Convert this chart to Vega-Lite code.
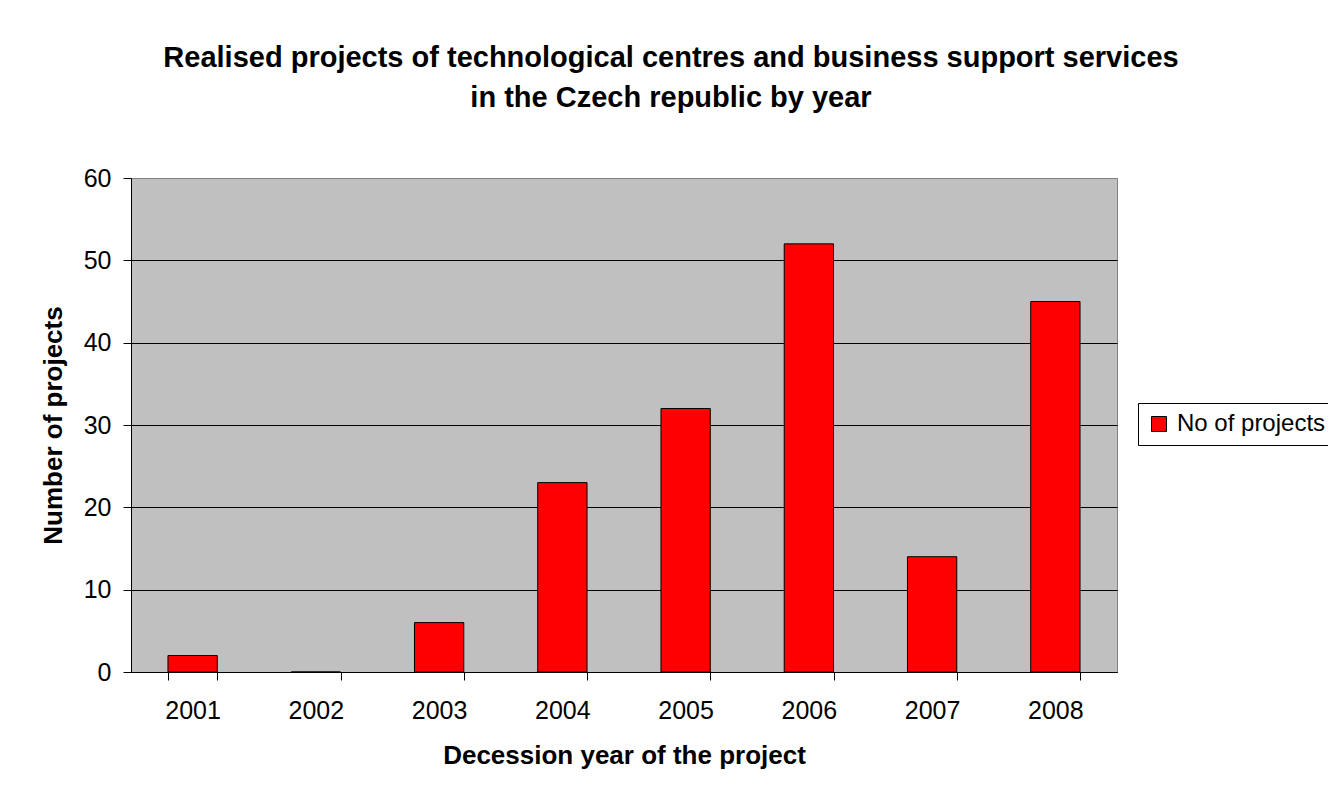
{
  "$schema": "https://vega.github.io/schema/vega-lite/v6.json",
  "width": 986,
  "height": 494,
  "autosize": {"type": "none"},
  "padding": {"left": 131, "top": 178, "right": 211, "bottom": 125},
  "background": "white",
  "title": {
    "text": ["Realised projects of technological centres and business support services", "in the Czech republic by year"],
    "font": "Liberation Sans",
    "fontSize": 29,
    "fontWeight": "bold",
    "color": "black",
    "anchor": "middle",
    "dx": 47,
    "offset": 53,
    "lineHeight": 40
  },
  "data": {
    "values": [
      {"year": "2001", "n": 2, "series": "No of projects"},
      {"year": "2002", "n": 0, "series": "No of projects"},
      {"year": "2003", "n": 6, "series": "No of projects"},
      {"year": "2004", "n": 23, "series": "No of projects"},
      {"year": "2005", "n": 32, "series": "No of projects"},
      {"year": "2006", "n": 52, "series": "No of projects"},
      {"year": "2007", "n": 14, "series": "No of projects"},
      {"year": "2008", "n": 45, "series": "No of projects"}
    ]
  },
  "mark": {"type": "bar", "stroke": "black", "strokeWidth": 1, "opacity": 1},
  "encoding": {
    "x": {
      "field": "year",
      "type": "ordinal",
      "scale": {"paddingInner": 0.6, "paddingOuter": 0.3},
      "axis": {
        "title": "Decession year of the project",
        "labelAngle": 0,
        "tickBand": "extent",
        "tickSize": 8,
        "tickColor": "black",
        "domainColor": "black",
        "labelPadding": 18,
        "labelFont": "Liberation Sans",
        "labelFontSize": 25,
        "labelColor": "black",
        "titleFont": "Liberation Sans",
        "titleFontSize": 26,
        "titleFontWeight": "bold",
        "titleColor": "black",
        "titlePadding": 19,
        "grid": false
      }
    },
    "y": {
      "field": "n",
      "type": "quantitative",
      "scale": {"domain": [0, 60], "nice": false},
      "axis": {
        "title": "Number of projects",
        "values": [0, 10, 20, 30, 40, 50, 60],
        "grid": true,
        "gridColor": {"condition": {"test": "datum.value == 60", "value": "#808080"}, "value": "black"},
        "gridOpacity": 1,
        "tickSize": 8,
        "tickColor": "black",
        "domainColor": "black",
        "labelPadding": 12,
        "labelFont": "Liberation Sans",
        "labelFontSize": 25,
        "labelColor": "black",
        "titleFont": "Liberation Sans",
        "titleFontSize": 26,
        "titleFontWeight": "bold",
        "titleColor": "black",
        "titlePadding": 17
      }
    },
    "color": {
      "field": "series",
      "type": "nominal",
      "scale": {"range": ["#FF0000"]},
      "legend": {
        "title": null,
        "orient": "none",
        "legendX": 1007,
        "legendY": 225,
        "strokeColor": "black",
        "fillColor": "white",
        "padding": 9,
        "symbolType": "square",
        "symbolSize": 225,
        "symbolStrokeColor": "black",
        "symbolStrokeWidth": 1,
        "symbolOpacity": 1,
        "labelFont": "Liberation Sans",
        "labelFontSize": 24,
        "labelColor": "black",
        "labelOffset": 6,
        "labelLimit": 400
      }
    }
  },
  "config": {
    "view": {"fill": "#C0C0C0", "stroke": "#808080", "strokeWidth": 1}
  }
}
